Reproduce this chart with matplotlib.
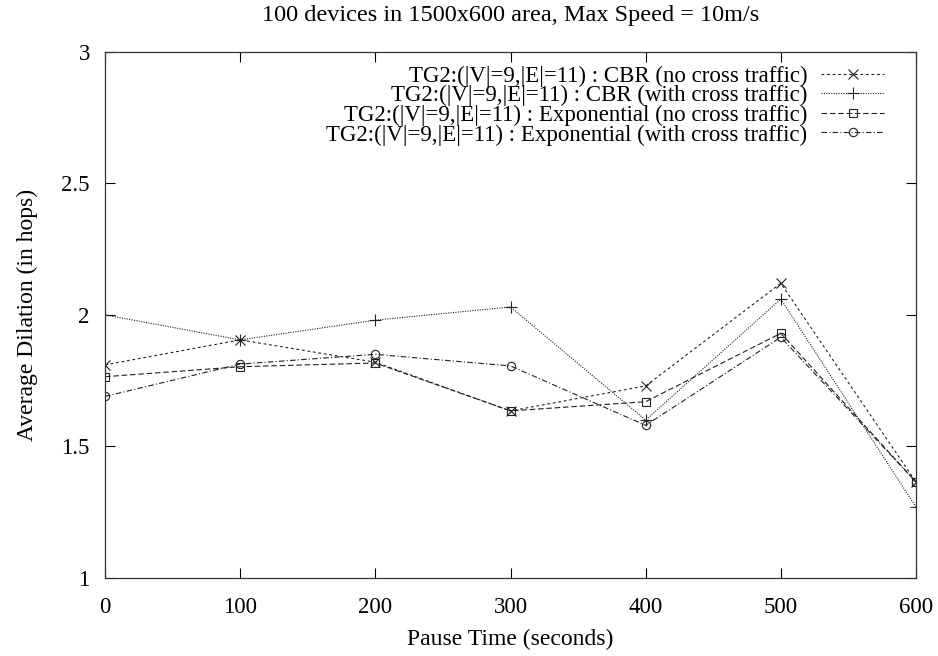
import matplotlib.pyplot as plt

# data
pause = [0, 100, 200, 300, 400, 500, 600]
cbr_no_cross = [1.81, 1.905, 1.82, 1.635, 1.73, 2.12, 1.365]
cbr_cross = [2.0, 1.905, 1.98, 2.03, 1.60, 2.06, 1.27]
exp_no_cross = [1.765, 1.803, 1.817, 1.635, 1.67, 1.93, 1.365]
exp_cross = [1.69, 1.813, 1.85, 1.806, 1.58, 1.915, 1.365]

labels = [
    "TG2:(|V|=9,|E|=11) : CBR (no cross traffic)",
    "TG2:(|V|=9,|E|=11) : CBR (with cross traffic)",
    "TG2:(|V|=9,|E|=11) : Exponential (no cross traffic)",
    "TG2:(|V|=9,|E|=11) : Exponential (with cross traffic)",
]

plt.rcParams['font.family'] = ['Liberation Serif', 'DejaVu Serif']

fig = plt.figure(figsize=(9.38, 6.56), dpi=100)
ax = fig.add_axes([0.112, 0.119, 0.8645, 0.802])

col = "#222222"
ax.plot(pause, cbr_no_cross, color=col, lw=0.8, dashes=(2.5, 2.5),
        marker="x", ms=7, mew=0.8, label=labels[0])
ax.plot(pause, cbr_cross, color=col, lw=0.8, dashes=(1, 1.2),
        marker="+", ms=8, mew=0.8, label=labels[1])
ax.plot(pause, exp_no_cross, color=col, lw=0.8, dashes=(5, 2.5),
        marker="s", ms=6, mew=0.8, mfc="none", label=labels[2])
ax.plot(pause, exp_cross, color=col, lw=0.8, dashes=(5, 2, 1, 2),
        marker="o", ms=6, mew=0.8, mfc="none", label=labels[3])

ax.set_xlim(0, 600)
ax.set_ylim(1, 3)
ax.set_xticks(pause)
ax.set_yticks([1, 1.5, 2, 2.5, 3])
ax.set_yticklabels(["1", "1.5", "2", "2.5", "3"])
ax.tick_params(direction="in", length=7, width=0.8, top=True, right=True,
               labelsize=16.5)
ax.tick_params(axis="x", pad=14)
ax.tick_params(axis="y", pad=11)
for s in ax.spines.values():
    s.set_linewidth(0.9)
    s.set_color("#333333")

ax.set_title("100 devices in 1500x600 area, Max Speed = 10m/s", fontsize=17.5, pad=22)
ax.set_xlabel("Pause Time (seconds)", fontsize=17, labelpad=7.5)
ax.set_ylabel("Average Dilation (in hops)", fontsize=17, labelpad=17)

ax.legend(loc="upper right", frameon=False, markerfirst=False, fontsize=16.5,
          handlelength=2.75, handletextpad=0.6, labelspacing=-0.07,
          borderaxespad=0.2, bbox_to_anchor=(0.978, 1.0))

fig.savefig("out.png", dpi=100)
